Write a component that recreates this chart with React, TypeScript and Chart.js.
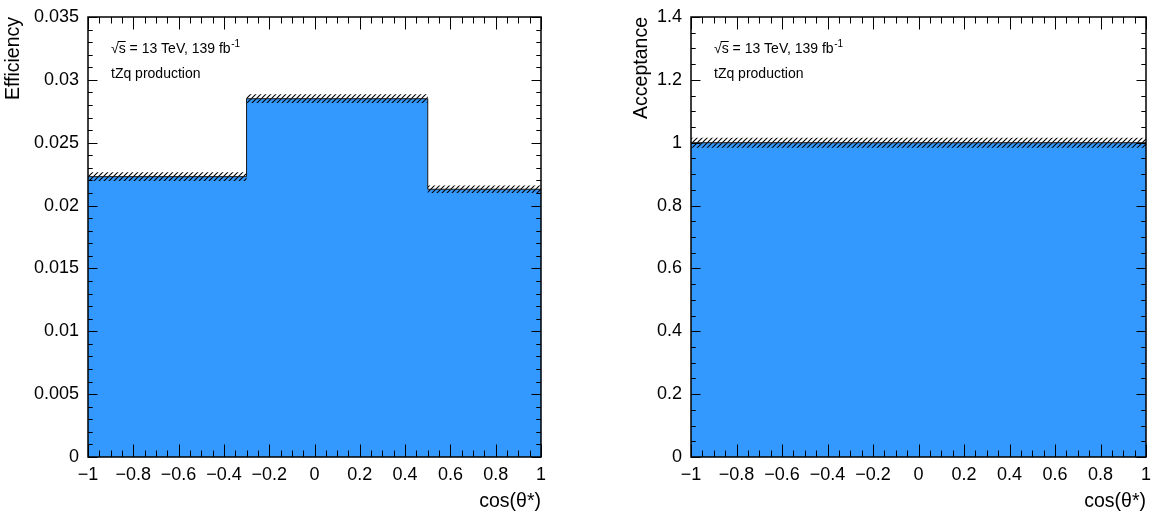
import React, { useEffect, useRef } from 'react';
import { Chart, registerables } from 'chart.js';

Chart.register(...registerables);

// ---------------- data ----------------
const efficiencyEdges = [-1, -0.3, 0.5, 1];
const efficiencyValues = [0.0223, 0.0285, 0.0213];
const efficiencyErrors = [0.00035, 0.00035, 0.0003];

const acceptanceEdges = [-1, 1];
const acceptanceValues = [1.0];
const acceptanceErrors = [0.016];

const xTitle = 'cos(θ*)';
const energyLabel = ' = 13 TeV, 139 fb';
const lumiExponent = '-1';
const processLabel = 'tZq production';

const FONT = '"Liberation Sans", Arial, Helvetica, sans-serif';
const BLUE = 'rgb(51,153,255)';

function fmt(v: number, d: number): string {
  const n = Number(v.toFixed(d));
  const s = String(n === 0 ? 0 : n);
  return s.replace('-', '\u2212');
}

function stepPoints(edges: number[], vals: number[]) {
  const pts = edges.slice(0, -1).map((e, i) => ({ x: e, y: vals[i] }));
  pts.push({ x: edges[edges.length - 1], y: vals[vals.length - 1] });
  return pts;
}

function makeHatch(): CanvasPattern | string {
  const c = document.createElement('canvas');
  c.width = 5;
  c.height = 5;
  const g = c.getContext('2d');
  if (!g) return 'rgba(0,0,0,0.5)';
  g.strokeStyle = '#000';
  g.lineWidth = 1.1;
  g.beginPath();
  g.moveTo(-1, 6);
  g.lineTo(6, -1);
  g.moveTo(-1, 1);
  g.lineTo(1, -1);
  g.moveTo(4, 6);
  g.lineTo(6, 4);
  g.stroke();
  const p = g.createPattern(c, 'repeat');
  return p || 'rgba(0,0,0,0.5)';
}

interface Cfg {
  edges: number[];
  values: number[];
  errors: number[];
  yMax: number;
  yStep: number;
  yMinor: number;
  yDigits: number;
  yTitle: string;
  left: number;
  width: number;
  yAxisWidth: number;
  padRight: number;
  yTitlePad: number;
}

function ticksPlugin(cfg: Cfg) {
  return {
    id: 'rootFrame',
    afterDraw(chart: any) {
      const { ctx, chartArea: a, scales } = chart;
      const xs = scales.x;
      const ys = scales.y;
      ctx.save();
      ctx.strokeStyle = '#000';
      ctx.lineWidth = 1;
      ctx.beginPath();
      const xStep = 0.05;
      const nx = Math.round(2 / xStep);
      for (let i = 0; i <= nx; i++) {
        const v = -1 + i * xStep;
        const px = Math.round(xs.getPixelForValue(v)) + 0.5;
        const len = i % 4 === 0 ? 12.5 : 6.5;
        ctx.moveTo(px, a.bottom);
        ctx.lineTo(px, a.bottom - len);
        ctx.moveTo(px, a.top);
        ctx.lineTo(px, a.top + len);
      }
      const ny = Math.round(cfg.yMax / cfg.yMinor);
      const per = Math.round(cfg.yStep / cfg.yMinor);
      for (let i = 0; i <= ny; i++) {
        const v = i * cfg.yMinor;
        const py = Math.round(ys.getPixelForValue(v)) + 0.5;
        const len = i % per === 0 ? 9.5 : 4.7;
        ctx.moveTo(a.left, py);
        ctx.lineTo(a.left + len, py);
        ctx.moveTo(a.right, py);
        ctx.lineTo(a.right - len, py);
      }
      ctx.stroke();
      ctx.lineWidth = 1.5;
      ctx.strokeRect(a.left, a.top, a.right - a.left, a.bottom - a.top);

      ctx.fillStyle = '#000';
      ctx.textAlign = 'left';
      ctx.textBaseline = 'alphabetic';
      ctx.font = `14px ${FONT}`;
      const x0 = a.left + 23;
      const y1 = a.top + 36;
      ctx.fillText('√', x0, y1);
      const wr = ctx.measureText('√').width;
      const sx = x0 + wr;
      ctx.fillText('s', sx, y1);
      const ws = ctx.measureText('s').width;
      ctx.lineWidth = 1;
      ctx.beginPath();
      ctx.moveTo(sx - 1, y1 - 11.5);
      ctx.lineTo(sx + ws, y1 - 11.5);
      ctx.stroke();
      ctx.fillText(energyLabel, sx + ws, y1);
      const wrest = ctx.measureText(energyLabel).width;
      ctx.font = `10px ${FONT}`;
      ctx.fillText(lumiExponent, sx + ws + wrest + 0.5, y1 - 6);
      ctx.font = `14px ${FONT}`;
      ctx.fillText(processLabel, x0, a.top + 61);
      ctx.restore();
    },
  };
}

function HistPanel({ cfg }: { cfg: Cfg }) {
  const ref = useRef<HTMLCanvasElement | null>(null);
  useEffect(() => {
    if (!ref.current) return;
    const hatch = makeHatch();
    const central = stepPoints(cfg.edges, cfg.values);
    const upper = stepPoints(cfg.edges, cfg.values.map((v, i) => v + cfg.errors[i]));
    const lower = stepPoints(cfg.edges, cfg.values.map((v, i) => v - cfg.errors[i]));
    const chart = new Chart(ref.current, {
      type: 'line',
      data: {
        datasets: [
          {
            data: central,
            stepped: 'before',
            fill: 'origin',
            backgroundColor: BLUE,
            borderWidth: 0,
            borderColor: 'rgba(0,0,0,0)',
            pointRadius: 0,
            order: 4,
          },
          {
            data: upper,
            stepped: 'before',
            fill: false,
            borderWidth: 0,
            borderColor: 'rgba(0,0,0,0)',
            pointRadius: 0,
            order: 3,
          },
          {
            data: lower,
            stepped: 'before',
            fill: '-1',
            backgroundColor: hatch as any,
            borderWidth: 0,
            borderColor: 'rgba(0,0,0,0)',
            pointRadius: 0,
            order: 2,
          },
          {
            data: central,
            stepped: 'before',
            fill: false,
            borderWidth: 1,
            borderColor: '#1a1a1a',
            pointRadius: 0,
            order: 1,
          },
        ],
      } as any,
      options: {
        responsive: false,
        animation: false,
        events: [],
        layout: { padding: { top: 17, right: cfg.padRight, bottom: 0, left: 0 } },
        plugins: { legend: { display: false }, tooltip: { enabled: false } },
        scales: {
          x: {
            type: 'linear',
            min: -1,
            max: 1,
            grid: { display: false, drawTicks: false },
            border: { display: false },
            ticks: {
              stepSize: 0.2,
              autoSkip: false,
              maxRotation: 0,
              padding: 7,
              color: '#000',
              font: { family: FONT, size: 18 },
              callback: (v: any) => fmt(Number(v), 1),
            },
            title: {
              display: true,
              text: xTitle,
              align: 'end',
              color: '#000',
              font: { family: FONT, size: 19.5 },
              padding: { top: 0, bottom: 0 },
            },
            afterFit: (s: any) => {
              s.height = 56;
              s.paddingLeft = 0;
              s.paddingRight = 0;
            },
          },
          y: {
            type: 'linear',
            min: 0,
            max: cfg.yMax,
            grid: { display: false, drawTicks: false },
            border: { display: false },
            ticks: {
              stepSize: cfg.yStep,
              autoSkip: false,
              padding: 9,
              color: '#000',
              font: { family: FONT, size: 18 },
              callback: (v: any) => fmt(Number(v), cfg.yDigits),
            },
            title: {
              display: true,
              text: cfg.yTitle,
              align: 'end',
              color: '#000',
              font: { family: FONT, size: 19.5 },
              padding: { top: cfg.yTitlePad, bottom: 0 },
            },
            afterFit: (s: any) => {
              s.width = cfg.yAxisWidth;
              s.paddingTop = 0;
              s.paddingBottom = 0;
            },
          },
        },
      } as any,
      plugins: [ticksPlugin(cfg)],
    });
    return () => chart.destroy();
  }, [cfg]);
  return (
    <canvas
      ref={ref}
      width={cfg.width}
      height={513}
      style={{ position: 'absolute', left: cfg.left, top: 0, width: cfg.width, height: 513 }}
    />
  );
}

const leftCfg: Cfg = {
  edges: efficiencyEdges,
  values: efficiencyValues,
  errors: efficiencyErrors,
  yMax: 0.035,
  yStep: 0.005,
  yMinor: 0.001,
  yDigits: 3,
  yTitle: 'Efficiency',
  left: 0,
  width: 576,
  yAxisWidth: 88,
  padRight: 35,
  yTitlePad: 2,
};

const rightCfg: Cfg = {
  edges: acceptanceEdges,
  values: acceptanceValues,
  errors: acceptanceErrors,
  yMax: 1.4,
  yStep: 0.2,
  yMinor: 0.05,
  yDigits: 1,
  yTitle: 'Acceptance',
  left: 620,
  width: 533,
  yAxisWidth: 71,
  padRight: 7,
  yTitlePad: 10,
};

export default function App() {
  return (
    <div style={{ position: 'absolute', left: 0, top: 0, width: 1153, height: 513, background: '#fff', overflow: 'hidden' }}>
      <HistPanel cfg={leftCfg} />
      <HistPanel cfg={rightCfg} />
    </div>
  );
}
